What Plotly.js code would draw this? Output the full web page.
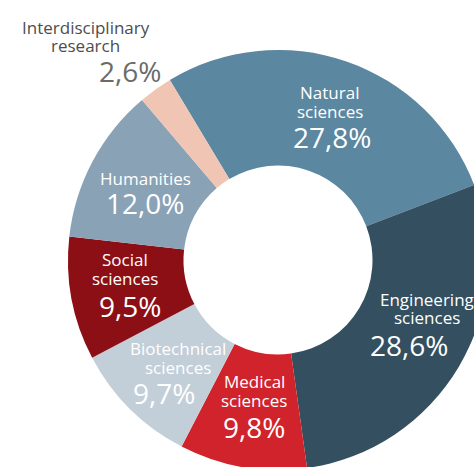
<!DOCTYPE html>
<html><head><meta charset="utf-8">
<script src="https://cdn.plot.ly/plotly-3.0.1.min.js"></script>
<style>html,body{margin:0;padding:0;overflow:hidden;width:474px;height:467px;background:#fff}#chart{width:500px;height:480px}</style>
</head><body><div id="chart"></div>
<script>
const categories = ["Natural sciences","Engineering sciences","Medical sciences","Biotechnical sciences","Social sciences","Humanities","Interdisciplinary research"];
const labelLines = [["Natural","sciences"],["Engineering","sciences"],["Medical","sciences"],["Biotechnical","sciences"],["Social","sciences"],["Humanities"],["Interdisciplinary","research"]];
const shares = [27.8,28.6,9.8,9.7,9.5,12.0,2.6];
const colors = ["#5b87a0","#334f60","#d1232b","#c2ced8","#8c0f16","#8aa2b6","#f0c5b4"];
const outsideLabel = [false,false,false,false,false,false,true];

// label layout tweaks (pixels): name block centre and percent centre relative to slice anchor
const nameShift = [[2,-14],[18,-29],[2,-19],[7,-10],[-3,-19],[2,-10],[-70,-53]];
const pctShift  = [[4,21],[0,8],[2,17],[-7,25],[2,18],[1,15],[-26,-18]];

const ROT = -31, HOLE = 0.45, LINE = 18.5;
const FONT = 'Open Sans';
const fmt = v => v.toFixed(1).replace('.', ',') + '%';

const data = [{
  type: 'pie',
  labels: categories,
  values: shares,
  textinfo: 'none',
  hoverinfo: 'none',
  sort: false,
  direction: 'clockwise',
  rotation: ROT,
  hole: HOLE,
  marker: {colors: colors, line: {width: 0}},
  showlegend: false
}];

// anchor points derived from the data (mid-angle of each slice)
const total = shares.reduce((a,b)=>a+b,0);
const annotations = [];
let cum = 0;
shares.forEach((v,i) => {
  const mid = (ROT + (cum + v/2) / total * 360) * Math.PI / 180;
  cum += v;
  const rFrac = outsideLabel[i] ? 0.5 : (HOLE + 1) / 2 * 0.5;
  const x = 0.5 + rFrac * Math.sin(mid);
  const y = 0.5 + rFrac * Math.cos(mid);
  const nameColor = outsideLabel[i] ? '#4d4d4d' : '#ffffff';
  const pctColor = outsideLabel[i] ? '#6b6b6b' : '#ffffff';
  const lines = labelLines[i];
  lines.forEach((ln,k) => {
    annotations.push({
      xref:'paper', yref:'paper', x:x, y:y, text: ln, showarrow:false,
      xanchor:'center', yanchor:'middle',
      xshift: nameShift[i][0],
      yshift: -(nameShift[i][1] + (k - (lines.length-1)/2) * LINE),
      font:{family:FONT, size:17, color:nameColor, weight:500}
    });
  });
  annotations.push({
    xref:'paper', yref:'paper', x:x, y:y, text: fmt(v), showarrow:false,
    xanchor:'center', yanchor:'middle',
    xshift: pctShift[i][0], yshift: -pctShift[i][1],
    font:{family:FONT, size:28, color:pctColor, weight:500}
  });
});

const layout = {
  width: 500, height: 480,
  margin: {l: 68, r: 12, t: 50, b: 10},
  paper_bgcolor: '#ffffff',
  showlegend: false,
  annotations: annotations
};
Plotly.newPlot('chart', data, layout, {displayModeBar: false, staticPlot: true});
</script></body></html>
